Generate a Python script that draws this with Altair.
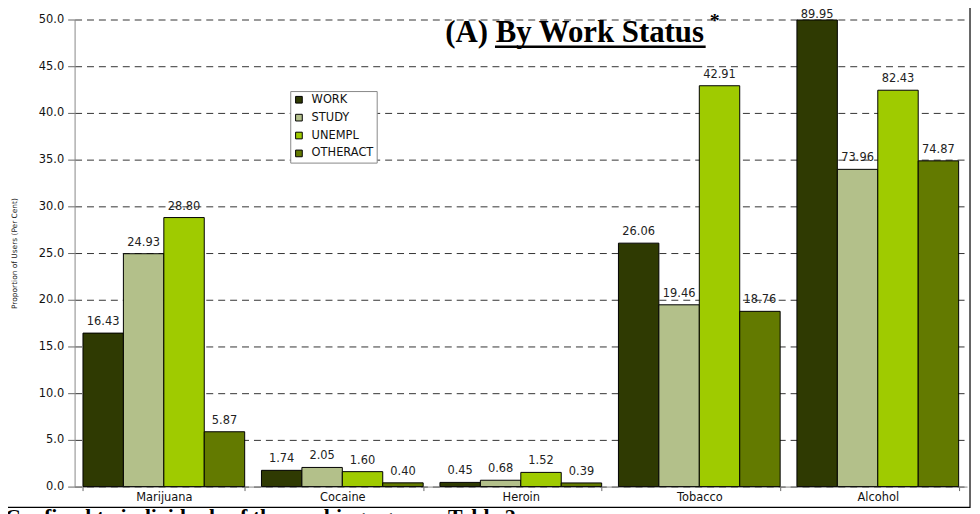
import altair as alt
import pandas as pd

categories = ["Marijuana", "Cocaine", "Heroin", "Tobacco", "Alcohol"]
series = ["WORK", "STUDY", "UNEMPL", "OTHERACT"]
work = [16.43, 1.74, 0.45, 26.06, 89.95]
study = [24.93, 2.05, 0.68, 19.46, 73.96]
unempl = [28.80, 1.60, 1.52, 42.91, 82.43]
otheract = [5.87, 0.40, 0.39, 18.76, 74.87]
# the original chart draws the Alcohol bars on a broken axis (40 points removed)
axis_break = [0, 0, 0, 0, 40]
colors = ["#2f3a02", "#b3c08a", "#9fcb00", "#637a00"]

rows = []
for s, vals in zip(series, [work, study, unempl, otheract]):
    for c, v, b in zip(categories, vals, axis_break):
        rows.append({"category": c, "series": s, "value": v, "height": v - b,
                     "label": f"{v:.2f}"})
df = pd.DataFrame(rows)

W, H = 898, 470
FONT = "DejaVu Sans"

x = alt.X("category:N", sort=categories, title=None,
          scale=alt.Scale(paddingInner=0.094, paddingOuter=0.047),
          axis=alt.Axis(labelAngle=0, tickBand="extent", tickSize=4,
                        labelPadding=1, labelFontSize=11.5,
                        labelFont=FONT, labelColor="#111",
                        domainColor="#888", tickColor="#666"))
xo = alt.XOffset("series:N", sort=series, scale=alt.Scale(paddingInner=0, paddingOuter=0))
y = alt.Y("height:Q", scale=alt.Scale(domain=[0, 50], nice=False),
          axis=alt.Axis(values=list(range(0, 51, 5)), format=".1f",
                        title="Proportion of Users (Per Cent)",
                        titleFontSize=7.5, titleFontWeight="normal",
                        titleFont=FONT, titleColor="#222",
                        titleX=-60, titleY=H / 2, titleAngle=270,
                        titleAlign="center", titleBaseline="middle",
                        labelFontSize=11.5, labelFont=FONT,
                        labelColor="#111", tickSize=7, labelPadding=4,
                        tickColor="#666", domainColor="#888",
                        grid=True, gridDash=[7, 5], gridColor="#333",
                        gridWidth=1))

bars = alt.Chart(df).mark_bar(stroke="black", strokeWidth=1).encode(
    x=x, xOffset=xo, y=y,
    color=alt.Color("series:N", sort=series,
                    scale=alt.Scale(domain=series, range=colors),
                    legend=alt.Legend(title=None, orient="none",
                                      legendX=217, legendY=72,
                                      fillColor="white", strokeColor="#888",
                                      padding=3, rowPadding=5,
                                      symbolType="square", symbolSize=45,
                                      symbolStrokeColor="black",
                                      symbolStrokeWidth=1,
                                      labelFont=FONT,
                                      labelFontSize=11.5, labelColor="#111",
                                      labelOffset=7)),
)

labels = alt.Chart(df).transform_calculate(
    label_pos="min(datum.height, 49.3)"
).mark_text(baseline="bottom", dy=-6, fontSize=11.5,
            font=FONT, color="#222").encode(
    x=alt.X("category:N", sort=categories),
    xOffset=alt.XOffset("series:N", sort=series),
    y=alt.Y("label_pos:Q"),
    text="label:N",
)

one = pd.DataFrame({"k": [0]})
frame = alt.Chart(one).mark_rect(fill="white", fillOpacity=0, stroke="black",
                                 strokeWidth=1.2).encode(
    x=alt.value(-70), x2=alt.value(901), y=alt.value(-13), y2=alt.value(491))

title = alt.Chart(one).mark_text(align="left", baseline="alphabetic",
                                 font="Liberation Serif", fontWeight="bold",
                                 fontSize=31, color="black").encode(
    x=alt.value(373), y=alt.value(23), text=alt.value("(A) By Work Status"))
underline = alt.Chart(one).mark_rule(color="black", strokeWidth=2.5).encode(
    x=alt.value(423), x2=alt.value(635), y=alt.value(27.5))
star = alt.Chart(one).mark_text(align="left", baseline="alphabetic",
                                font="Liberation Serif", fontWeight="bold",
                                fontSize=20, color="black").encode(
    x=alt.value(639), y=alt.value(8), text=alt.value("*"))
footnote = alt.Chart(one).mark_text(align="left", baseline="alphabetic",
                                    font="Liberation Serif", fontWeight="bold",
                                    fontSize=22, color="black").encode(
    x=alt.value(-70), y=alt.value(508),
    text=alt.value("Confined to individuals of the working age; see Table 2"))

chart = alt.layer(frame, bars, labels, title, underline, star, footnote).properties(
    width=W, height=H,
    autosize=alt.AutoSizeParams(type="none"),
    padding={"left": 67, "top": 10, "right": 5, "bottom": 26},
    background="white",
).configure_view(stroke=None)

chart.save("out.html", embed_options={"renderer": "svg", "actions": False})
